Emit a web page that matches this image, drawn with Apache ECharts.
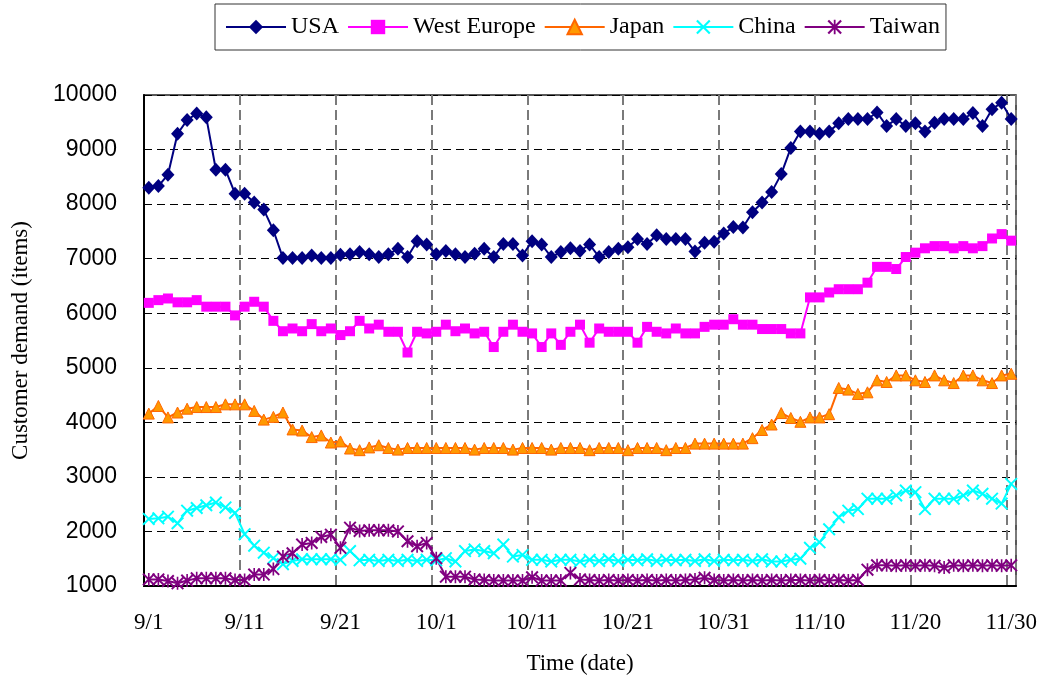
<!DOCTYPE html>
<html>
<head>
<meta charset="utf-8">
<title>Customer demand by region</title>
<script src="https://cdn.jsdelivr.net/npm/echarts@6/dist/echarts.min.js"></script>
<style>
  html, body { margin: 0; padding: 0; background: #ffffff; }
  #chart { width: 1047px; height: 684px; }
</style>
</head>
<body>
<div id="chart"></div>
<script>
// Daily dates, 9/1 through 11/30
const dates = [
  '9/1','9/2','9/3','9/4','9/5','9/6','9/7','9/8','9/9','9/10',
  '9/11','9/12','9/13','9/14','9/15','9/16','9/17','9/18','9/19','9/20',
  '9/21','9/22','9/23','9/24','9/25','9/26','9/27','9/28','9/29','9/30',
  '10/1','10/2','10/3','10/4','10/5','10/6','10/7','10/8','10/9','10/10',
  '10/11','10/12','10/13','10/14','10/15','10/16','10/17','10/18','10/19','10/20',
  '10/21','10/22','10/23','10/24','10/25','10/26','10/27','10/28','10/29','10/30',
  '10/31','11/1','11/2','11/3','11/4','11/5','11/6','11/7','11/8','11/9',
  '11/10','11/11','11/12','11/13','11/14','11/15','11/16','11/17','11/18','11/19',
  '11/20','11/21','11/22','11/23','11/24','11/25','11/26','11/27','11/28','11/29',
  '11/30'
];

// Customer demand (items) per day and region
const usa = [
  8300, 8330, 8540, 9290, 9540, 9660, 9590, 8630, 8630, 8190,
  8190, 8030, 7900, 7520, 7010, 7010, 7010, 7060, 7010, 7010,
  7070, 7080, 7120, 7080, 7030, 7080, 7180, 7030, 7320, 7260,
  7080, 7140, 7080, 7030, 7090, 7180, 7030, 7270, 7270, 7060,
  7320, 7260, 7030, 7120, 7190, 7140, 7260, 7030, 7120, 7180,
  7210, 7360, 7270, 7430, 7360, 7360, 7360, 7130, 7290, 7310,
  7460, 7580, 7570, 7850, 8030, 8220, 8550, 9030, 9330, 9330,
  9290, 9330, 9480, 9560, 9560, 9560, 9680, 9430, 9560, 9430,
  9480, 9330, 9490, 9560, 9560, 9560, 9670, 9430, 9740, 9860,
  9560
];

const westEurope = [
  6190, 6240, 6270, 6200, 6200, 6240, 6120, 6120, 6120, 5960,
  6120, 6210, 6120, 5860, 5670, 5720, 5670, 5800, 5670, 5720,
  5600, 5670, 5860, 5720, 5790, 5660, 5660, 5280, 5660, 5630,
  5660, 5790, 5670, 5720, 5630, 5660, 5380, 5660, 5790, 5660,
  5630, 5380, 5630, 5420, 5660, 5790, 5460, 5720, 5660, 5660,
  5660, 5460, 5750, 5660, 5630, 5720, 5630, 5630, 5750, 5790,
  5790, 5890, 5790, 5790, 5710, 5710, 5710, 5630, 5630, 6290,
  6290, 6380, 6440, 6440, 6440, 6560, 6850, 6850, 6810, 7030,
  7110, 7190, 7230, 7230, 7190, 7230, 7190, 7230, 7370, 7450,
  7330
];

const japan = [
  4160, 4300, 4090, 4180, 4250, 4280, 4280, 4280, 4330, 4330,
  4330, 4210, 4050, 4100, 4180, 3870, 3850, 3730, 3760, 3630,
  3650, 3520, 3490, 3540, 3580, 3530, 3500, 3530, 3530, 3530,
  3530, 3530, 3530, 3530, 3500, 3530, 3530, 3530, 3500, 3530,
  3530, 3530, 3500, 3530, 3530, 3530, 3490, 3530, 3530, 3530,
  3490, 3530, 3530, 3530, 3490, 3530, 3530, 3610, 3610, 3610,
  3610, 3610, 3610, 3710, 3860, 3960, 4170, 4080, 4010, 4090,
  4090, 4150, 4630, 4600, 4520, 4550, 4770, 4740, 4860, 4860,
  4770, 4740, 4860, 4770, 4720, 4860, 4860, 4770, 4720, 4860,
  4890
];

const china = [
  2230, 2240, 2270, 2150, 2380, 2430, 2480, 2530, 2440, 2340,
  1950, 1740, 1610, 1510, 1400, 1460, 1490, 1490, 1490, 1490,
  1480, 1640, 1470, 1480, 1460, 1480, 1460, 1480, 1460, 1480,
  1470, 1510, 1450, 1640, 1670, 1640, 1600, 1760, 1540, 1570,
  1480, 1480, 1450, 1480, 1480, 1450, 1480, 1460, 1490, 1460,
  1480, 1470, 1490, 1460, 1480, 1470, 1480, 1460, 1490, 1460,
  1480, 1470, 1480, 1460, 1490, 1450, 1450, 1480, 1500, 1700,
  1800, 2040, 2260, 2380, 2410, 2600, 2600, 2600, 2660, 2750,
  2720, 2410, 2600, 2600, 2600, 2660, 2750, 2690, 2600, 2510,
  2870
];

const taiwan = [
  1120, 1120, 1090, 1050, 1100, 1140, 1140, 1140, 1140, 1110,
  1110, 1210, 1210, 1310, 1540, 1600, 1760, 1790, 1900, 1940,
  1700, 2070, 2010, 2020, 2020, 2020, 2000, 1820, 1730, 1790,
  1510, 1170, 1170, 1170, 1120, 1110, 1100, 1100, 1100, 1100,
  1160, 1100, 1100, 1100, 1240, 1120, 1110, 1100, 1110, 1100,
  1110, 1100, 1110, 1100, 1110, 1100, 1110, 1120, 1150, 1110,
  1100, 1110, 1100, 1110, 1100, 1110, 1100, 1110, 1110, 1100,
  1110, 1100, 1110, 1100, 1110, 1300, 1380, 1380, 1370, 1380,
  1370, 1380, 1370, 1340, 1380, 1370, 1380, 1370, 1380, 1370,
  1380
];

const yTicks = { min: 1000, max: 10000, step: 1000 };

const SERIF = '"Liberation Serif", "Times New Roman", serif';
const SANS = '"Liberation Sans", Arial, sans-serif';

// Cross marker (two diagonal bars) and asterisk marker (cross plus vertical bar)
const CROSS_PATH = 'path://M1.2,-1.2L21.2,18.8L18.8,21.2L-1.2,1.2Z M21.2,1.2L1.2,21.2L-1.2,18.8L18.8,-1.2Z';
const STAR_PATH = CROSS_PATH + ' M11.4,-1.2L11.4,21.2L8.6,21.2L8.6,-1.2Z';

function lineSeries(name, data, color, symbol, size, extra) {
  return Object.assign({
    name: name,
    type: 'line',
    data: data,
    symbol: symbol,
    symbolSize: size,
    showAllSymbol: true,
    lineStyle: { color: color, width: 2 },
    itemStyle: { color: color },
    emphasis: { disabled: true }
  }, extra || {});
}

const chart = echarts.init(document.getElementById('chart'), null, { renderer: 'canvas' });

chart.setOption({
  animation: false,
  backgroundColor: '#ffffff',
  textStyle: { fontFamily: SERIF, color: '#000' },
  legend: {
    left: 215,
    top: 4,
    padding: [11, 6, 11, 10],
    itemGap: 8,
    itemWidth: 60,
    itemHeight: 18,
    borderColor: '#333',
    borderWidth: 1,
    textStyle: { fontFamily: SERIF, fontSize: 24, color: '#000' },
    data: ['USA', 'West Europe', 'Japan', 'China', 'Taiwan']
  },
  grid: {
    left: 144,
    right: 31,
    top: 95,
    bottom: 98,
    show: true,
    borderColor: '#222',
    borderWidth: 1.5
  },
  xAxis: {
    type: 'category',
    data: dates,
    boundaryGap: true,
    name: 'Time (date)',
    nameLocation: 'middle',
    nameGap: 66,
    nameTextStyle: { fontFamily: SERIF, fontSize: 23, color: '#000' },
    axisLine: { lineStyle: { color: '#000', width: 2 } },
    axisTick: { show: false },
    axisLabel: {
      interval: 9,
      margin: 25,
      fontFamily: SERIF,
      fontSize: 23,
      color: '#000'
    },
    splitLine: {
      show: true,
      interval: 9,
      lineStyle: { color: '#7a7a7a', width: 2, type: [10, 5] }
    }
  },
  yAxis: {
    type: 'value',
    min: yTicks.min,
    max: yTicks.max,
    interval: yTicks.step,
    name: 'Customer demand (items)',
    nameLocation: 'middle',
    nameGap: 112,
    nameTextStyle: { fontFamily: SERIF, fontSize: 23, color: '#000' },
    axisLine: { show: true, lineStyle: { color: '#000', width: 2 } },
    axisTick: { show: false },
    axisLabel: {
      margin: 27,
      fontFamily: SANS,
      fontSize: 23,
      color: '#000',
      formatter: function (v) { return String(v); }
    },
    splitLine: {
      show: true,
      lineStyle: { color: '#000', width: 1, type: [8, 5] }
    }
  },
  series: [
    lineSeries('USA', usa, '#000080', 'diamond', [13, 14]),
    lineSeries('West Europe', westEurope, '#ff00ff', 'rect', 10),
    lineSeries('Japan', japan, '#ff6600', 'triangle', 11, {
      itemStyle: { color: '#ff9900', borderColor: '#ff6600', borderWidth: 1 }
    }),
    lineSeries('China', china, '#00ffff', CROSS_PATH, 13),
    lineSeries('Taiwan', taiwan, '#800080', STAR_PATH, 13)
  ]
});
</script>
</body>
</html>
